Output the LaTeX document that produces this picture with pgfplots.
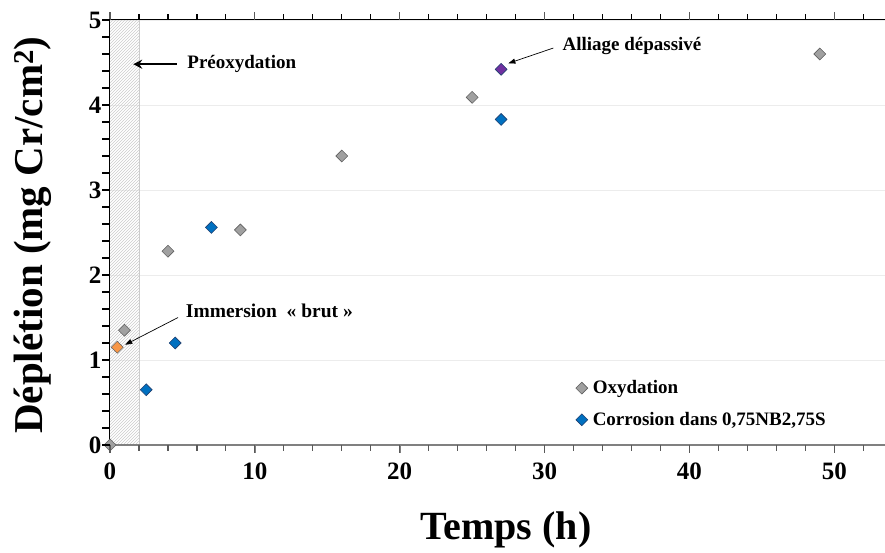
\documentclass[border=0pt]{standalone}
\usepackage{pgfplots}
\pgfplotsset{compat=1.18}
\usepackage{fontspec}
\setmainfont{Liberation Serif}
\usetikzlibrary{patterns,arrows.meta}
\definecolor{oxgray}{HTML}{A0A0A0}
\definecolor{oxedge}{HTML}{606060}
\definecolor{corblue}{HTML}{0070C0}
\definecolor{coredge}{HTML}{1F3F6F}
\definecolor{immorange}{HTML}{F79646}
\definecolor{deppurple}{HTML}{7030A0}
\begin{document}
\begin{tikzpicture}
\path[use as bounding box] (-110pt,-108pt) rectangle (775pt,445pt);
\begin{axis}[
  scale only axis,
  width=775pt, height=425pt,
  xmin=0, xmax=53.5, ymin=0, ymax=5,
  xtick={0,10,...,50}, ytick={0,1,...,5},
  tick align=outside,
  xtick pos=bottom, ytick pos=left,
  major tick length=8pt,
  ymajorgrids, major grid style={draw=gray!15, line width=0.6pt},
  axis line style={draw=none},
  /pgf/number format/assume math mode=true,
  ticklabel style={font=\fontsize{25}{28}\selectfont\bfseries},
  xticklabel style={yshift=-6pt},
  yticklabel style={xshift=3pt},
  xlabel={Temps (h)},
  ylabel={Déplétion (mg Cr/cm\textsuperscript{2})},
  xlabel style={font=\fontsize{40}{44}\selectfont\bfseries, at={(axis description cs:0.511,-0.20)}, anchor=center},
  ylabel style={font=\fontsize{41}{46}\selectfont\bfseries, at={(axis description cs:-0.099,0.494)}, anchor=center},
  clip mode=individual,
  legend style={at={(axis description cs:0.597,0.161)}, anchor=north west, draw=none, fill=none,
    font=\fontsize{19}{22}\selectfont\bfseries, row sep=13pt, nodes={inner xsep=5pt}},
  legend cell align=left,
]
\fill[pattern=north east lines, pattern color=gray!40] (axis cs:0,0) rectangle (axis cs:2,5);
\draw[gray!40, line width=0.3pt] (axis cs:2,0) -- (axis cs:2,5);
\draw[gray, line width=1.2pt] (rel axis cs:0,0) -- (rel axis cs:1,0);
\draw[black, line width=1pt] (rel axis cs:0,0) -- (rel axis cs:0,1);
\draw[black, line width=1pt] (rel axis cs:0,1) -- (rel axis cs:1,1);

\addplot[only marks, mark=square*, mark size=4.2pt, mark options={rotate=45, fill=oxgray, draw=oxedge, line width=0.6pt}]
  coordinates {(0,0) (1,1.35) (4,2.28) (9,2.53) (16,3.40) (25,4.09) (49,4.60)};
\addlegendentry{Oxydation}
\addplot[only marks, mark=square*, mark size=4.2pt, mark options={rotate=45, fill=corblue, draw=coredge, line width=0.6pt}]
  coordinates {(2.5,0.65) (4.5,1.20) (7,2.56) (27,3.83)};
\addlegendentry{Corrosion dans 0,75NB2,75S}
\addplot[only marks, mark=square*, mark size=4.2pt, mark options={rotate=45, fill=immorange, draw=oxedge, line width=0.6pt}, forget plot]
  coordinates {(0.5,1.15)};
\addplot[only marks, mark=square*, mark size=4.2pt, mark options={rotate=45, fill=deppurple, draw=coredge, line width=0.6pt}, forget plot]
  coordinates {(27,4.42)};

\draw[-{Stealth[length=9pt,width=9pt]}, line width=1.8pt] (axis cs:4.6,4.48) -- (axis cs:1.6,4.48);
\node[anchor=west, font=\fontsize{19}{22}\selectfont\bfseries] at (axis cs:5.1,4.48) {Préoxydation};
\draw[-{Triangle[length=7pt,width=5pt]}, line width=0.7pt] (axis cs:4.7,1.50) -- (axis cs:1.05,1.18);
\node[anchor=west, font=\fontsize{19.5}{22}\selectfont\bfseries] at (axis cs:5.0,1.58) {Immersion~~«~brut~»};
\draw[-{Triangle[length=7pt,width=5pt]}, line width=0.7pt] (axis cs:30.6,4.67) -- (axis cs:27.5,4.49);
\node[anchor=west, font=\fontsize{19}{22}\selectfont\bfseries] at (axis cs:31.0,4.70) {Alliage dépassivé};
\end{axis}
% tick marks (axis: 775pt wide for 0..53.5 -> 14.486pt per unit; 425pt high for 0..5)
\begin{scope}[x=1pt, y=1pt]
\foreach \i in {0,...,26} {
  \draw[black, line width=1.2pt] ({\i*28.972},425) -- ++(0,6);
  \draw[gray!70!black, line width=1.2pt] ({\i*28.972},0) -- ++(0,-6);
}
\foreach \i in {0,...,5} {
  \draw[gray!70!black, line width=1.2pt] ({\i*144.86},425) -- ++(0,8);
  \draw[gray!70!black, line width=1.2pt] ({\i*144.86},0) -- ++(0,-8);
}
\foreach \i in {0,...,25} {
  \draw[black, line width=1.2pt] (0,{\i*17}) -- ++(-8,0);
}
\end{scope}
\end{tikzpicture}
\end{document}
